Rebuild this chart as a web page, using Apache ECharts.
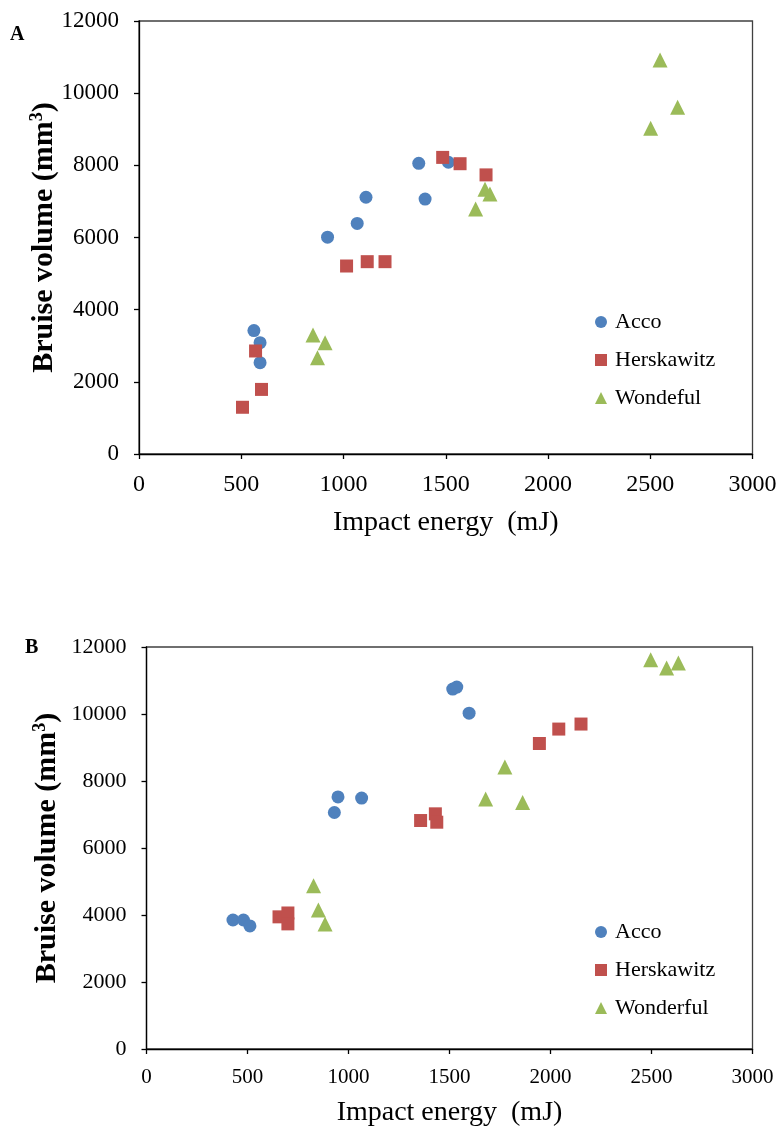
<!DOCTYPE html>
<html>
<head>
<meta charset="utf-8">
<script src="https://cdn.jsdelivr.net/npm/echarts@6/dist/echarts.min.js"></script>
<style>html,body{margin:0;padding:0;background:#fff;}#c{width:782px;height:1129px;}</style>
</head>
<body>
<div id="c"></div>
<script>
// ---- Data ----
const seriesNames = ['Acco', 'Herskawitz', 'Wonderful'];
const legendNamesA = ['Acco', 'Herskawitz', 'Wondeful'];
const legendNamesB = ['Acco', 'Herskawitz', 'Wonderful'];
const panelLabels = ['A', 'B'];
const xTicks = [0, 500, 1000, 1500, 2000, 2500, 3000];
const yTicks = [0, 2000, 4000, 6000, 8000, 10000, 12000];

// Panel A
const accoA_x  = [562, 592, 592, 922, 1067, 1110, 1368, 1399, 1513];
const accoA_y  = [3420, 3085, 2530, 6010, 6390, 7115, 8055, 7065, 8085];
const herskA_x = [506, 570, 599, 1015, 1116, 1203, 1485, 1570, 1697];
const herskA_y = [1295, 2855, 1790, 5210, 5330, 5330, 8220, 8045, 7735];
const wondA_x  = [851, 873, 910, 1646, 1692, 1716, 2502, 2548, 2634];
const wondA_y  = [3300, 2670, 3085, 6790, 7335, 7205, 9025, 10920, 9610];

// Panel B
const accoB_x  = [428, 480, 512, 930, 948, 1065, 1516, 1536, 1597];
const accoB_y  = [3850, 3850, 3675, 7060, 7525, 7490, 10745, 10805, 10025];
const herskB_x = [656, 700, 700, 1357, 1430, 1437, 1945, 2041, 2151];
const herskB_y = [3945, 4060, 3735, 6820, 7020, 6770, 9120, 9550, 9700];
const wondB_x  = [827, 851, 884, 1679, 1774, 1862, 2496, 2575, 2633];
const wondB_y  = [4870, 4150, 3735, 7460, 8420, 7355, 11620, 11370, 11520];

// ---- Styles ----
const colors = ['#4F81BD', '#C0504D', '#9BBB59'];
const symbols = ['circle', 'rect', 'triangle'];
const symSizes = [13, 13, 15];
const FONT = '"Liberation Serif", "Times New Roman", serif';

function zip(xs, ys) { return xs.map((x, i) => [x, ys[i]]); }

function xAxis(gi, nameGap, labelMargin, labelSize) {
  return {
    type: 'value', gridIndex: gi, min: xTicks[0], max: xTicks[xTicks.length - 1], interval: 500,
    name: 'Impact energy  (mJ)', nameLocation: 'middle', nameGap: nameGap, nameMoveOverlap: false,
    nameTextStyle: { fontFamily: FONT, fontSize: 28, color: '#000' },
    axisLine: { show: true, onZero: false, lineStyle: { color: '#000', width: 1.3 } },
    axisTick: { show: true, inside: false, length: 5, lineStyle: { color: '#000', width: 1.3 } },
    axisLabel: { fontFamily: FONT, fontSize: labelSize, color: '#000', margin: labelMargin, formatter: v => String(v) },
    splitLine: { show: false }
  };
}
function yAxis(gi, nameGap, labelMargin, labelSize) {
  return {
    type: 'value', gridIndex: gi, min: yTicks[0], max: yTicks[yTicks.length - 1], interval: 2000,
    name: '{b|Bruise volume (mm}{s|3}{b|)}', nameLocation: 'middle', nameGap: nameGap, nameMoveOverlap: false,
    nameTextStyle: {
      fontFamily: FONT, color: '#000',
      rich: {
        b: { fontFamily: FONT, fontSize: 30, fontWeight: 'bold', color: '#000' },
        s: { fontFamily: FONT, fontSize: 18, fontWeight: 'bold', color: '#000', verticalAlign: 'top', padding: [0, 0, 14, 0] }
      }
    },
    axisLine: { show: true, onZero: false, lineStyle: { color: '#000', width: 1.3 } },
    axisTick: { show: true, inside: false, length: 5, lineStyle: { color: '#000', width: 1.3 } },
    axisLabel: { fontFamily: FONT, fontSize: labelSize, color: '#000', margin: labelMargin, formatter: v => String(v) },
    splitLine: { show: false }
  };
}
function mkSeries(gi, xs, ys, k) {
  return {
    type: 'scatter', name: seriesNames[k], xAxisIndex: gi, yAxisIndex: gi,
    symbol: symbols[k], symbolSize: symSizes[k],
    itemStyle: { color: colors[k], opacity: 1 },
    data: zip(xs, ys), z: 3 + k
  };
}
function mkLegend(top, names) {
  return {
    orient: 'vertical', left: 590, top: top, itemGap: 16, itemWidth: 12, itemHeight: 12,
    selectedMode: false,
    textStyle: { fontFamily: FONT, fontSize: 22, color: '#000', lineHeight: 22, padding: [0, 0, 0, 3] },
    data: names.map((n, k) => ({ name: seriesNames[k], icon: symbols[k], itemStyle: { color: colors[k] } })),
    formatter: function (name) { return names[seriesNames.indexOf(name)]; }
  };
}

const chart = echarts.init(document.getElementById('c'), null, { renderer: 'canvas' });
chart.setOption({
  backgroundColor: '#fff',
  animation: false,
  grid: [
    { left: 139, right: 29.5, top: 21, height: 433, show: true, borderColor: '#404040', borderWidth: 1.3, backgroundColor: 'transparent' },
    { left: 146.5, right: 29.5, top: 647, height: 402, show: true, borderColor: '#404040', borderWidth: 1.3, backgroundColor: 'transparent' }
  ],
  xAxis: [xAxis(0, 55, 19, 24), xAxis(1, 50, 18, 21)],
  yAxis: [yAxis(0, 79, 20, 23), yAxis(1, 83, 20, 22)],
  legend: [mkLegend(306, legendNamesA), mkLegend(916, legendNamesB)],
  graphic: [
    { type: 'text', left: 10, top: 25, style: { text: panelLabels[0], fontFamily: FONT, fontSize: 20, fontWeight: 'bold', fill: '#000' } },
    { type: 'text', left: 25, top: 638, style: { text: panelLabels[1], fontFamily: FONT, fontSize: 20, fontWeight: 'bold', fill: '#000' } }
  ],
  series: [
    mkSeries(0, accoA_x, accoA_y, 0), mkSeries(0, herskA_x, herskA_y, 1), mkSeries(0, wondA_x, wondA_y, 2),
    mkSeries(1, accoB_x, accoB_y, 0), mkSeries(1, herskB_x, herskB_y, 1), mkSeries(1, wondB_x, wondB_y, 2)
  ]
});
</script>
</body>
</html>
